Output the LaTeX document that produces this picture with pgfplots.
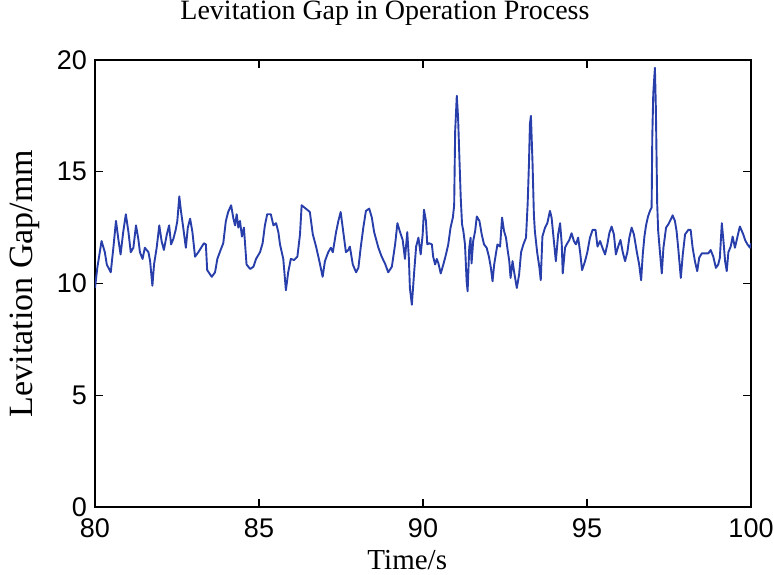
\documentclass[border=0pt]{standalone}
\usepackage{pgfplots}
\pgfplotsset{compat=1.18}
\usepackage{fontspec}
\setmainfont{Liberation Serif}
\newfontfamily\arialfont{Liberation Sans}
\definecolor{mblue}{RGB}{40,62,170}
\begin{document}
\begin{tikzpicture}
\useasboundingbox (-47.5pt,-33.5pt) rectangle (339.5pt,253.5pt);
\begin{axis}[
  at={(0,0)}, anchor=south west,
  scale only axis, width=328pt, height=223.5pt,
  xmin=80, xmax=100, ymin=0, ymax=20,
  xtick={80,85,90,95,100}, ytick={0,5,10,15,20},
  tick align=inside, xtick pos=both, ytick pos=both,
  major tick length=4pt,
  axis line style={line width=0.7pt, black},
  every tick/.style={black, line width=0.6pt},
  /pgf/number format/assume math mode=true,
  tick label style={font=\arialfont\fontsize{13.5}{15}\selectfont},
  xticklabel style={yshift=-2.5pt},
  yticklabel style={xshift=-0.5pt},
  title={Levitation Gap in Operation Process},
  title style={at={(axis description cs:0.442,1)}, anchor=base, yshift=14.5pt, font=\fontsize{14}{16}\selectfont},
  xlabel={Time/s},
  xlabel style={at={(axis description cs:0.476,0)}, anchor=base, yshift=-31pt, font=\fontsize{14.5}{16}\selectfont},
  ylabel={Levitation Gap/mm},
  ylabel style={at={(axis description cs:-0.095,0.5)}, anchor=base, rotate=0, font=\fontsize{17}{19}\selectfont},
]
\addplot[mblue, line width=0.95pt, line join=round] coordinates {
(80.00,9.8) (80.07,10.7) (80.20,11.9) (80.30,11.4) (80.36,10.85) (80.48,10.5) (80.56,11.6) (80.64,12.8)
(80.71,12.0) (80.78,11.3) (80.86,12.3) (80.94,13.1) (81.02,12.3) (81.09,11.4) (81.17,11.6) (81.25,12.6)
(81.32,12.0) (81.37,11.4) (81.45,11.1) (81.52,11.6) (81.63,11.4) (81.68,11.0) (81.75,9.9) (81.80,10.85)
(81.88,11.6) (81.96,12.6) (82.03,11.9) (82.10,11.5) (82.19,12.2) (82.26,12.6) (82.32,11.75) (82.39,12.0)
(82.46,12.4) (82.51,12.8) (82.57,13.9) (82.62,13.25) (82.69,12.5) (82.77,11.6) (82.83,12.5) (82.90,12.9)
(82.97,12.3) (83.05,11.2) (83.15,11.4) (83.32,11.8) (83.38,11.75) (83.42,10.6) (83.56,10.3) (83.66,10.5)
(83.73,11.1) (83.83,11.5) (83.91,11.8) (83.99,12.8) (84.06,13.2) (84.15,13.5) (84.22,12.9) (84.27,12.6)
(84.32,13.1) (84.37,12.5) (84.42,12.8) (84.48,12.1) (84.54,12.5) (84.62,10.85) (84.73,10.65) (84.83,10.75)
(84.91,11.1) (85.03,11.4) (85.11,11.8) (85.18,12.6) (85.25,13.1) (85.36,13.1) (85.44,12.6) (85.52,12.7)
(85.59,12.3) (85.64,11.75) (85.74,11.1) (85.82,9.7) (85.89,10.5) (85.97,11.1) (86.07,11.05) (86.17,11.2)
(86.25,12.2) (86.30,13.5) (86.47,13.3) (86.55,13.2) (86.64,12.2) (86.74,11.65) (86.84,11.0) (86.94,10.3)
(87.01,11.0) (87.11,11.4) (87.19,11.6) (87.25,11.4) (87.35,12.3) (87.42,12.8) (87.49,13.2) (87.57,12.3)
(87.65,11.4) (87.72,11.5) (87.77,11.65) (87.86,10.85) (87.96,10.5) (88.03,10.7) (88.10,11.6) (88.18,12.5)
(88.26,13.25) (88.36,13.35) (88.44,12.95) (88.51,12.3) (88.64,11.6) (88.74,11.2) (88.84,10.9) (88.94,10.5)
(89.05,10.75) (89.15,11.75) (89.22,12.7) (89.30,12.3) (89.38,11.95) (89.45,11.1) (89.52,12.3) (89.57,11.1)
(89.60,9.8) (89.66,9.05) (89.73,10.5) (89.79,11.65) (89.86,12.05) (89.93,11.3) (89.99,12.2) (90.03,13.3)
(90.09,12.8) (90.13,11.75) (90.19,11.8) (90.27,11.75) (90.31,11.2) (90.37,10.85) (90.42,11.1) (90.47,10.9)
(90.54,10.45) (90.62,10.85) (90.70,11.3) (90.77,11.75) (90.84,12.5) (90.91,12.95) (90.95,13.5) (90.98,16.8)
(91.03,18.4) (91.07,17.4) (91.11,15.6) (91.15,13.85) (91.19,12.65) (91.23,12.35) (91.28,11.75) (91.33,10.1)
(91.36,9.65) (91.41,11.6) (91.45,12.05) (91.48,10.9) (91.53,11.9) (91.59,12.35) (91.64,13.0) (91.72,12.8)
(91.79,12.2) (91.86,11.75) (91.94,11.6) (92.01,11.2) (92.07,10.7) (92.12,10.1) (92.17,10.85) (92.23,11.4)
(92.27,11.75) (92.35,11.65) (92.41,12.95) (92.47,12.35) (92.53,12.05) (92.58,11.5) (92.63,11.0) (92.67,10.25)
(92.73,11.0) (92.78,10.5) (92.86,9.8) (92.93,10.4) (92.99,11.4) (93.06,11.75) (93.14,12.05) (93.19,13.55)
(93.23,15.35) (93.26,17.15) (93.29,17.5) (93.34,15.35) (93.38,13.1) (93.41,12.35) (93.48,11.4) (93.55,10.7)
(93.59,10.15) (93.64,12.1) (93.72,12.5) (93.79,12.7) (93.87,13.25) (93.92,12.95) (93.99,11.9) (94.05,11.0)
(94.12,12.2) (94.18,12.7) (94.23,11.75) (94.26,10.45) (94.33,11.6) (94.38,11.75) (94.46,11.95) (94.53,12.25)
(94.60,11.9) (94.66,11.75) (94.73,12.05) (94.79,11.4) (94.85,10.6) (94.94,11.0) (95.01,11.4) (95.09,12.05)
(95.17,12.4) (95.26,12.4) (95.32,11.65) (95.40,11.9) (95.47,11.6) (95.55,11.3) (95.62,11.75) (95.68,12.25)
(95.75,12.55) (95.82,12.2) (95.88,11.3) (95.95,11.65) (96.02,11.95) (96.09,11.4) (96.16,11.0) (96.23,11.4)
(96.29,12.05) (96.36,12.5) (96.43,12.2) (96.52,11.4) (96.59,10.85) (96.65,10.15) (96.70,11.3) (96.75,12.1)
(96.80,12.6) (96.86,13.0) (96.92,13.25) (96.97,13.4) (96.99,16.55) (97.02,18.5) (97.07,19.65) (97.10,17.8)
(97.14,13.55) (97.17,12.35) (97.23,11.3) (97.28,10.45) (97.33,11.6) (97.41,12.5) (97.48,12.65) (97.55,12.85)
(97.61,13.05) (97.68,12.8) (97.73,12.35) (97.78,11.6) (97.86,10.25) (97.92,11.3) (97.99,12.2) (98.09,12.4)
(98.16,12.4) (98.22,11.6) (98.29,11.0) (98.36,10.55) (98.42,11.15) (98.50,11.35) (98.60,11.35) (98.70,11.35)
(98.77,11.5) (98.85,11.2) (98.93,10.7) (99.00,10.85) (99.05,11.15) (99.11,12.7) (99.16,11.9) (99.21,11.0)
(99.26,10.55) (99.31,11.4) (99.38,11.65) (99.44,12.1) (99.51,11.6) (99.58,12.05) (99.66,12.55) (99.75,12.25)
(99.82,11.95) (99.89,11.75) (99.97,11.6) (100.00,11.8)
};
\end{axis}
\end{tikzpicture}
\end{document}
